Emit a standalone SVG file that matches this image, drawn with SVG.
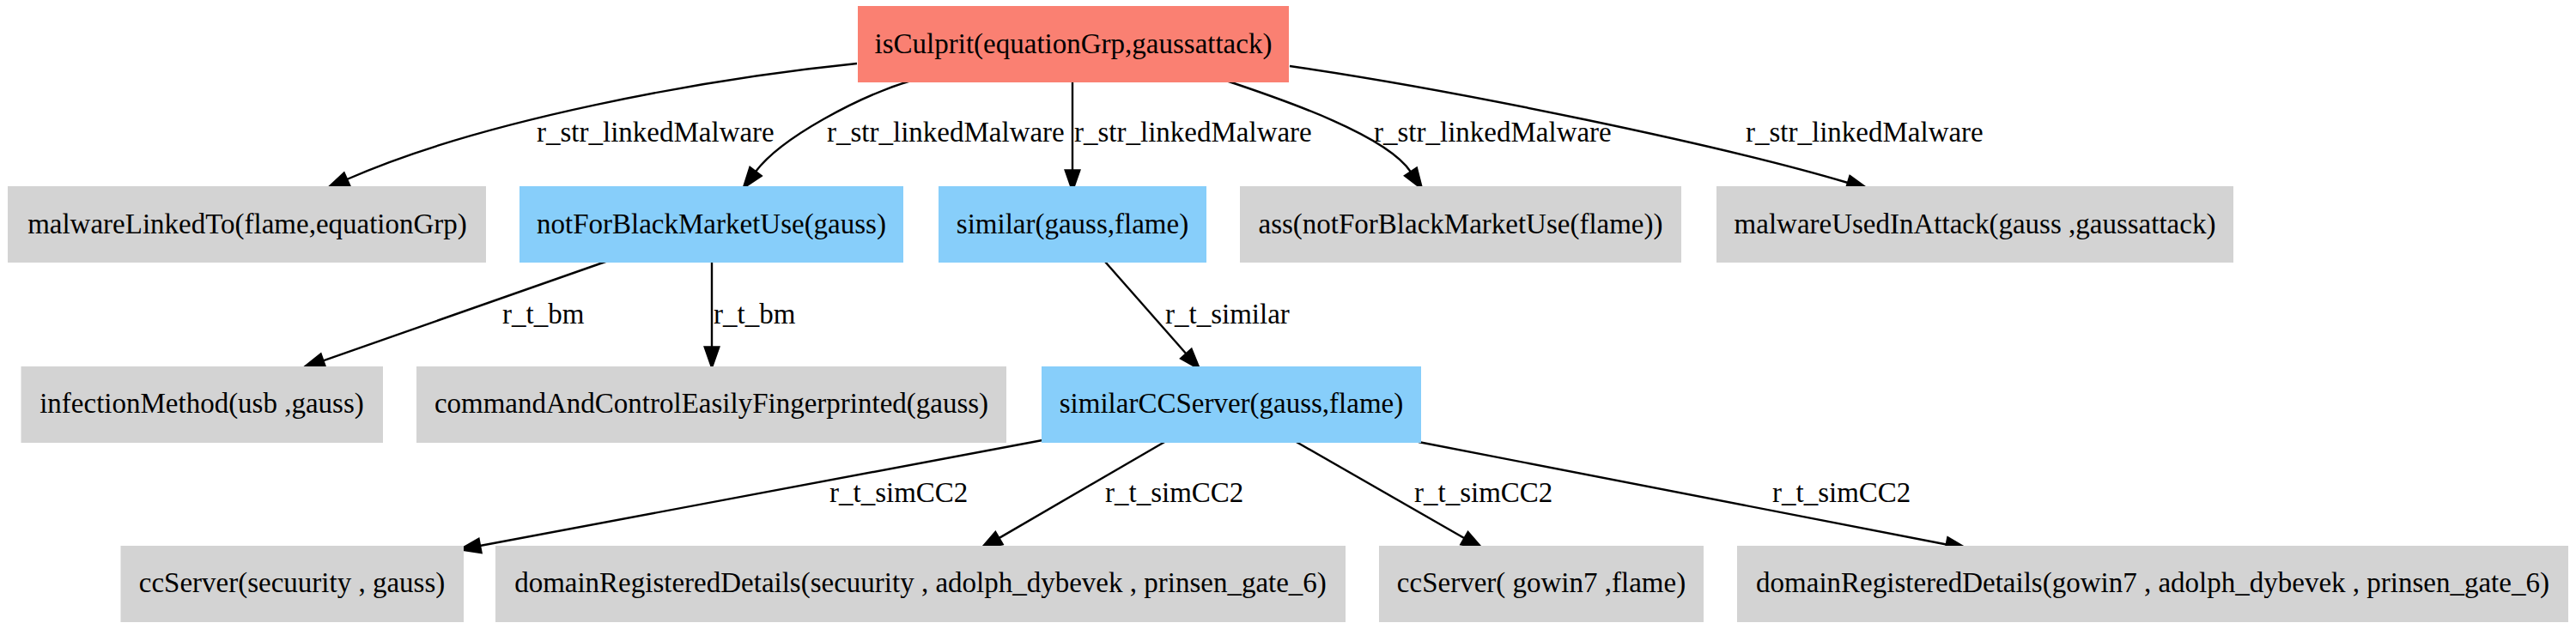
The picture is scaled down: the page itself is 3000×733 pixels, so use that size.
<svg xmlns="http://www.w3.org/2000/svg" width="3000" height="733" viewBox="0 0 3000 733">
<style>
  text { font-family: "Liberation Serif", "Times New Roman", serif; font-size: 33px; fill: #000; }
  .n text { text-anchor: middle; }
  .red { fill: #fa8072; stroke: #fa8072; stroke-width: 2; }
  .blue { fill: #87cefa; stroke: #87cefa; stroke-width: 2; }
  .gray { fill: #d3d3d3; stroke: #d3d3d3; stroke-width: 2; }
  .e path { fill: none; stroke: #000; stroke-width: 2.4; marker-end: url(#ah); }
</style>
<defs>
  <marker id="ah" viewBox="0 0 24 16.5" markerWidth="24" markerHeight="16.5" refX="0" refY="8.25" orient="auto" markerUnits="userSpaceOnUse" style="overflow:visible">
    <path d="M0,0 L23.6,8.25 L0,16.5 z" fill="#000" stroke="#000" stroke-width="2.4" stroke-linejoin="miter"/>
  </marker>
</defs>
<rect width="3000" height="733" fill="#fff"/>

<g id="connectors" class="e">
  <path d="M998,74 C820,92 560,140 404,209"/>
  <path d="M1061,94 C1001,112 910,160 880,200"/>
  <path d="M1249,94 L1249,198.5"/>
  <path d="M1428,94 C1500,118 1615,158 1643,200.3"/>
  <path d="M1502,77 C1702,106 2008,170 2152,213"/>
  <path d="M708,304 L376.3,420.3"/>
  <path d="M829,305 L829,404.5"/>
  <path d="M1287,305 L1381.4,412.3"/>
  <path d="M1214,513 L559,636"/>
  <path d="M1358,514 L1163.4,627.1"/>
  <path d="M1508,514 L1705.5,627.3"/>
  <path d="M1652,515 L2266.8,634.5"/>
</g>
<g id="edge-labels">
  <text x="625" y="165">r_str_linkedMalware</text>
  <text x="963" y="165">r_str_linkedMalware</text>
  <text x="1251" y="165">r_str_linkedMalware</text>
  <text x="1600" y="165">r_str_linkedMalware</text>
  <text x="2033" y="165">r_str_linkedMalware</text>
  <text x="585" y="377">r_t_bm</text>
  <text x="831" y="377">r_t_bm</text>
  <text x="1357" y="377">r_t_similar</text>
  <text x="966" y="585">r_t_simCC2</text>
  <text x="1287" y="585">r_t_simCC2</text>
  <text x="1647" y="585">r_t_simCC2</text>
  <text x="2064" y="585">r_t_simCC2</text>
</g>

<g id="isCulprit" class="n"><rect class="red" x="1000" y="8" width="500" height="87"/><text x="1250" y="62">isCulprit(equationGrp,gaussattack)</text></g>

<g id="malwareLinkedTo" class="n"><rect class="gray" x="10" y="218" width="555" height="87"/><text x="288" y="272">malwareLinkedTo(flame,equationGrp)</text></g>
<g id="notForBlackMarketUse" class="n"><rect class="blue" x="606" y="218" width="445" height="87"/><text x="828.5" y="272">notForBlackMarketUse(gauss)</text></g>
<g id="similar" class="n"><rect class="blue" x="1094" y="218" width="310" height="87"/><text x="1249" y="272">similar(gauss,flame)</text></g>
<g id="ass" class="n"><rect class="gray" x="1445" y="218" width="512" height="87"/><text x="1701" y="272">ass(notForBlackMarketUse(flame))</text></g>
<g id="malwareUsedInAttack" class="n"><rect class="gray" x="2000" y="218" width="600" height="87"/><text x="2300" y="272">malwareUsedInAttack(gauss ,gaussattack)</text></g>

<g id="infectionMethod" class="n"><rect class="gray" x="25.5" y="428" width="419.5" height="87"/><text x="235" y="481">infectionMethod(usb ,gauss)</text></g>
<g id="commandAndControl" class="n"><rect class="gray" x="486" y="428" width="685" height="87"/><text x="828.5" y="481">commandAndControlEasilyFingerprinted(gauss)</text></g>
<g id="similarCCServer" class="n"><rect class="blue" x="1214" y="428" width="440" height="87"/><text x="1434" y="481">similarCCServer(gauss,flame)</text></g>

<g id="ccServer1" class="n"><rect class="gray" x="141.5" y="637" width="397.5" height="87"/><text x="340" y="690">ccServer(secuurity , gauss)</text></g>
<g id="domainRegistered1" class="n"><rect class="gray" x="578" y="637" width="988" height="87"/><text x="1072" y="690">domainRegisteredDetails(secuurity , adolph_dybevek , prinsen_gate_6)</text></g>
<g id="ccServer2" class="n"><rect class="gray" x="1607" y="637" width="376" height="87"/><text x="1795" y="690">ccServer( gowin7 ,flame)</text></g>
<g id="domainRegistered2" class="n"><rect class="gray" x="2024" y="637" width="966" height="87"/><text x="2507" y="690">domainRegisteredDetails(gowin7 , adolph_dybevek , prinsen_gate_6)</text></g>
</svg>
